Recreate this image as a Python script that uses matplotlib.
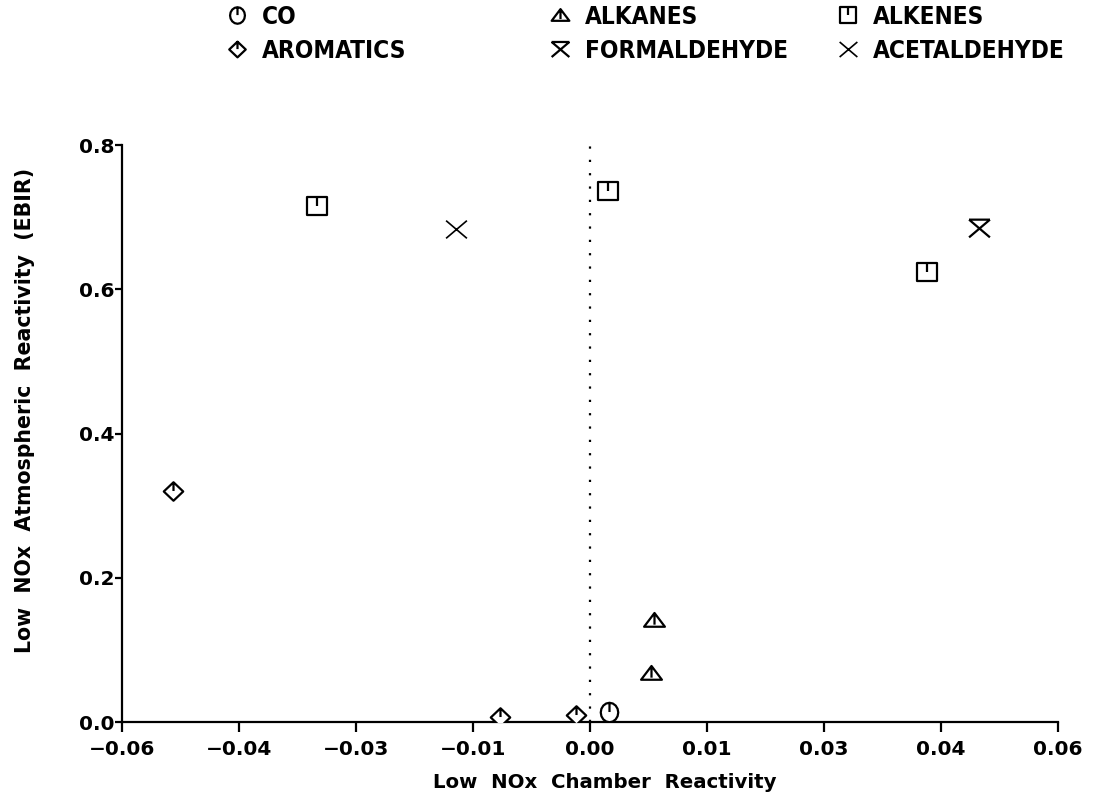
import numpy as np
import matplotlib
matplotlib.use("Agg")
import matplotlib.pyplot as plt
from matplotlib.path import Path

# ---- data ----
co_x = [0.0024]
co_y = [0.014]
arom_x = [-0.0535, -0.0115, -0.0018]
arom_y = [0.320, 0.0074, 0.0097]
alkanes_x = [0.0082, 0.0078]
alkanes_y = [0.141, 0.068]
formal_x = [0.0499]
formal_y = [0.685]
alkenes_x = [-0.0350, 0.0023, 0.0432]
alkenes_y = [0.716, 0.736, 0.624]
acet_x = [-0.0172]
acet_y = [0.684]

legend_columns = [["CO", "AROMATICS"], ["ALKANES", "FORMALDEHYDE"], ["ALKENES", "ACETALDEHYDE"]]

xticks = [-0.06, -0.045, -0.03, -0.015, 0.0, 0.015, 0.03, 0.045, 0.06]
xticklabels = ["\u22120.06", "\u22120.04", "\u22120.03", "\u22120.01", "0.00", "0.01", "0.03", "0.04", "0.06"]
yticks = [0.0, 0.2, 0.4, 0.6, 0.8]
yticklabels = ["0.0", "0.2", "0.4", "0.6", "0.8"]

# ---- custom markers ----
M, L, C = Path.MOVETO, Path.LINETO, Path.CLOSEPOLY

def circle_marker():
    n = 16
    ang = np.linspace(0, 2*np.pi, n, endpoint=False) + np.pi/2
    verts = [(0.9*np.cos(a), np.sin(a)) for a in ang]
    codes = [M] + [L]*(n-1)
    verts.append(verts[0]); codes.append(C)
    verts += [(0, 1), (0, 0.05)]; codes += [M, L]
    return Path(verts, codes)

def diamond_marker():
    verts = [(0, 0.95), (1, 0), (0, -0.95), (-1, 0), (0, 0.95), (0, 0.95), (0, 0.05)]
    codes = [M, L, L, L, C, M, L]
    return Path(verts, codes)

def triangle_marker():
    verts = [(-1, -0.6), (1, -0.6), (0, 0.72), (-1, -0.6), (0, 0.72), (0, -0.4)]
    codes = [M, L, L, C, M, L]
    return Path(verts, codes)

def square_marker():
    verts = [(-1, -0.95), (1, -0.95), (1, 0.95), (-1, 0.95), (-1, -0.95), (0, 0.95), (0, -0.05)]
    codes = [M, L, L, L, C, M, L]
    return Path(verts, codes)

def hourglass_marker():
    verts = [(-1, 0.85), (1, 0.85), (-1, 0.85), (1, -0.85), (1, 0.85), (-1, -0.85)]
    codes = [M, L, M, L, M, L]
    return Path(verts, codes)

def x_marker():
    verts = [(-1, -0.85), (1, 0.85), (-1, 0.85), (1, -0.85)]
    codes = [M, L, M, L]
    return Path(verts, codes)

fig = plt.figure(figsize=(11, 7.97), dpi=100)
ax = fig.add_axes([0.111, 0.094, 0.851, 0.724])

tick_font = dict(family="DejaVu Sans", weight="bold", size=14.5)
label_font = dict(family="DejaVu Sans", weight="bold", size=14.2)

ax.plot([0, 0], [0, 0.8], color="black", lw=1.6, linestyle=(0, (1, 5)), zorder=1)

common = dict(linestyle="none", color="black", markeredgecolor="black", zorder=3)
h = {}
h["CO"], = ax.plot(co_x, co_y, marker=circle_marker(), ms=14, mew=1.6, mfc="white", label="CO", **common)
h["AROMATICS"], = ax.plot(arom_x, arom_y, marker=diamond_marker(), ms=14, mew=1.6, mfc="white", label="AROMATICS", **common)
h["ALKANES"], = ax.plot(alkanes_x, alkanes_y, marker=triangle_marker(), ms=15, mew=1.6, mfc="white", label="ALKANES", **common)
h["FORMALDEHYDE"], = ax.plot(formal_x, formal_y, marker=hourglass_marker(), ms=15, mew=1.6, mfc="none", label="FORMALDEHYDE", **common)
h["ALKENES"], = ax.plot(alkenes_x, alkenes_y, marker=square_marker(), ms=14, mew=1.6, mfc="white", label="ALKENES", **common)
h["ACETALDEHYDE"], = ax.plot(acet_x, acet_y, marker=x_marker(), ms=15, mew=1.2, mfc="none", label="ACETALDEHYDE", **common)

ax.set_xlim(-0.06, 0.06)
ax.set_ylim(0.0, 0.8)
ax.set_xticks(xticks)
ax.set_xticklabels(xticklabels, **tick_font)
ax.set_yticks(yticks)
ax.set_yticklabels(yticklabels, **tick_font)
ax.tick_params(axis="x", direction="out", length=7, width=1.6, pad=6)
ax.tick_params(axis="y", direction="out", length=5, width=1.6, pad=0.5)

for s in ["top", "right"]:
    ax.spines[s].set_visible(False)
for s in ["left", "bottom"]:
    ax.spines[s].set_linewidth(1.6)

ax.set_xlabel("Low  NOx  Chamber  Reactivity", fontdict=label_font, labelpad=10)
ax.xaxis.label.set_x(0.5 + 15 / 936)
ax.set_ylabel("Low  NOx  Atmospheric  Reactivity  (EBIR)", fontdict=dict(label_font, size=14.8), labelpad=32)
ax.yaxis.label.set_y(0.54)

# legend: three fixed columns
col_x = [225, 548, 836]
fs = 17.5
for cx, names in zip(col_x, legend_columns):
    fig.legend(handles=[h[n] for n in names], labels=names,
               loc="upper left", bbox_to_anchor=(cx / 1100, 1 - 5 / 797),
               frameon=False, borderpad=0, borderaxespad=0,
               handletextpad=0.53, handlelength=1.0, labelspacing=0.4,
               markerscale=0.85,
               prop=dict(family="DejaVu Sans", stretch="condensed", weight="bold", size=fs))

fig.savefig("out.png", dpi=100)
